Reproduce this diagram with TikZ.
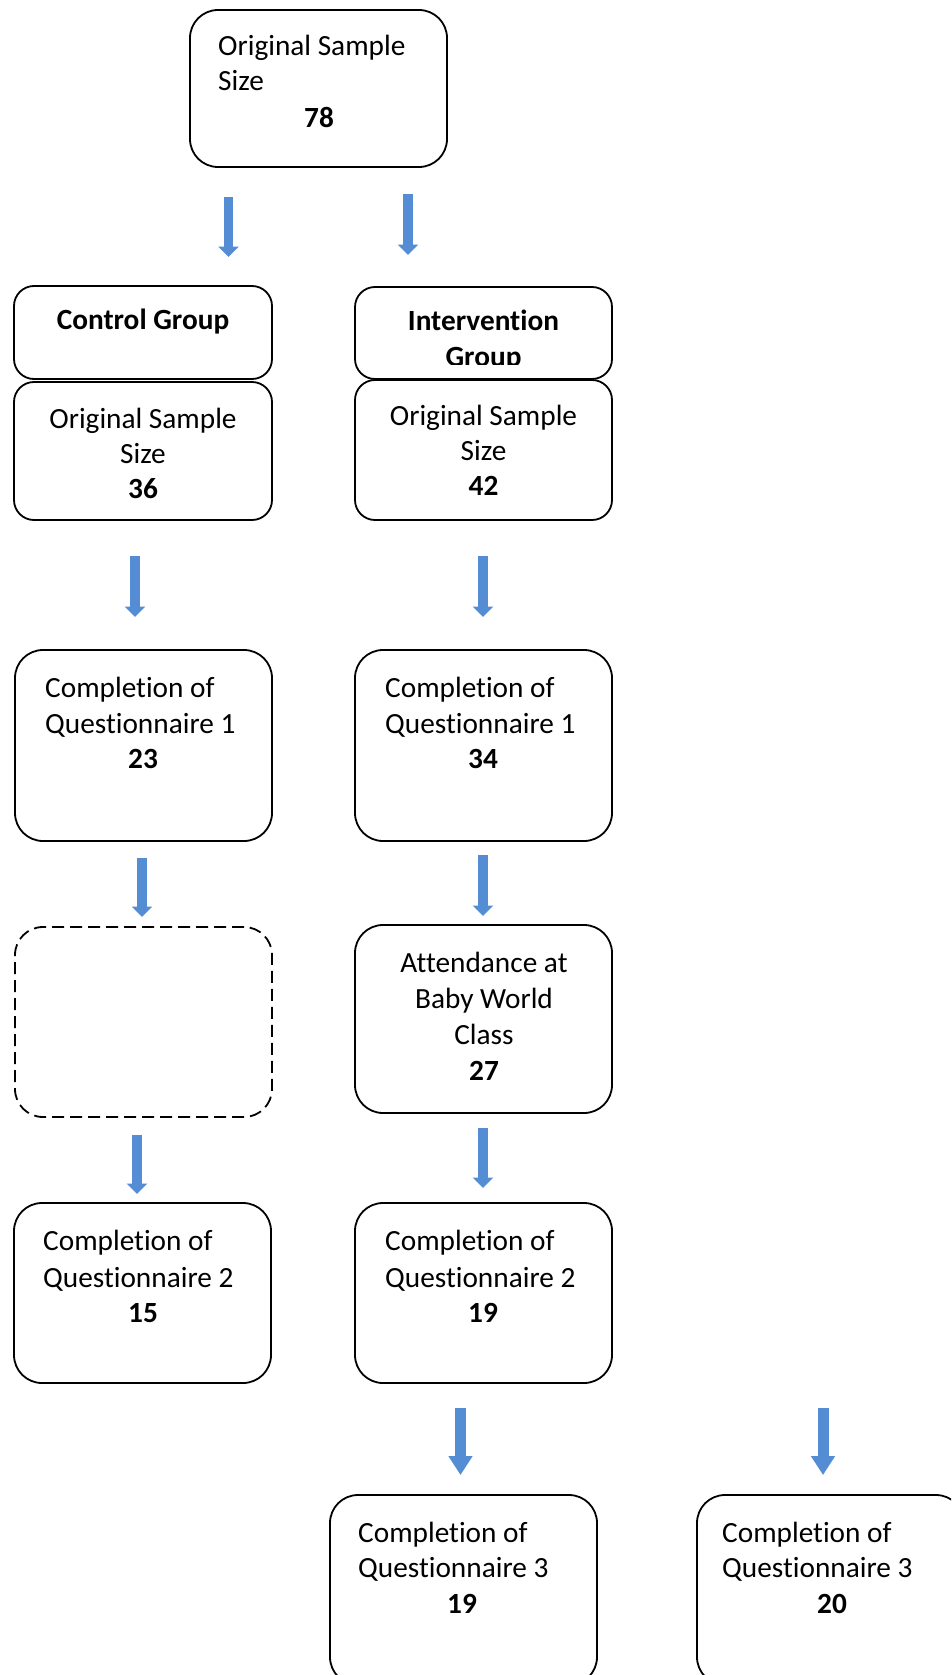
\documentclass[tikz,border=0pt]{standalone}
\usepackage{fontspec}
\setmainfont{Carlito}[Ligatures={NoCommon}]
\usetikzlibrary{arrows.meta}
\definecolor{arrowblue}{HTML}{548DD4}
\tikzset{
 box/.style={draw=black, line width=1.8pt, rounded corners=28pt, minimum width=257pt, inner sep=0pt},
 gbox/.style={box, rounded corners=20pt},
 dbox/.style={box, dash pattern=on 12pt off 6pt},
 lt/.style={inner sep=0pt, anchor=base west, font=\fontsize{29.3}{36}\selectfont},
 ct/.style={inner sep=0pt, anchor=base, font=\fontsize{29.3}{36}\selectfont},
 bt/.style={inner sep=0pt, anchor=base, font=\fontsize{29.3}{36}\selectfont\bfseries},
 barrow/.style={draw=arrowblue, line width=9.5pt, -{Triangle[width=20pt,length=10.5pt]}},
 bigarrow/.style={draw=arrowblue, line width=11pt, -{Triangle[width=23pt,length=19pt]}},
}
\begin{document}
\begin{tikzpicture}[x=1pt,y=-1pt]
\clip (0,0) rectangle (951,1675);
\fill[white] (0,0) rectangle (951,1675);

% boxes
\node[box, minimum height=157pt] (top) at (318.5,88.5) {};
\node[gbox, minimum width=258pt, minimum height=93pt] (ctrlgrp) at (143,332.5) {};
\node[gbox, minimum height=92pt] (intgrp) at (483.5,333) {};
\node[gbox, minimum width=258pt, minimum height=138pt] (ctrlorig) at (143,451) {};
\node[gbox, minimum height=140pt] (intorig) at (483.5,450) {};
\node[box, minimum height=191pt] (ctrlq1) at (143.5,745.5) {};
\node[box, minimum height=191pt] (intq1) at (483.5,745.5) {};
\node[dbox, minimum height=190pt] (ctrlgap) at (143.5,1022) {};
\node[box, minimum height=188pt] (attend) at (483.5,1019) {};
\node[box, minimum height=180pt] (ctrlq2) at (142.5,1293) {};
\node[box, minimum height=180pt] (intq2) at (483.5,1293) {};
\node[box, minimum width=267pt, minimum height=190pt] (q3a) at (463.5,1590) {};
\node[box, minimum width=267pt, minimum height=190pt] (q3b) at (830.5,1590) {};

% texts
\node[lt] (t1a) at (218,55.5) {Original Sample};
\node[lt] (t1b) at (218,91) {Size};
\node[bt] (t1c) at (319,128) {78};

\node[bt] (cg) at (143,329) {Control Group};
\node[bt] (ig1) at (483.5,330) {Intervention};
\begin{scope}
\clip (355,287) rectangle (612,364.5);
\node[bt] (ig2) at (483.5,366) {Group};
\end{scope}

\node[ct] (co1) at (143,428) {Original Sample};
\node[ct] (co2) at (143,463) {Size};
\node[bt] (co3) at (143,498) {36};

\node[ct] (io1) at (483.5,425) {Original Sample};
\node[ct] (io2) at (483.5,460) {Size};
\node[bt] (io3) at (483.5,495) {42};

\node[lt] (cq1a) at (45,697) {Completion of};
\node[lt] (cq1b) at (45,733) {Questionnaire 1};
\node[bt] (cq1c) at (143,768) {23};

\node[lt] (iq1a) at (385,697) {Completion of};
\node[lt] (iq1b) at (385,733) {Questionnaire 1};
\node[bt] (iq1c) at (483,768) {34};

\node[ct] (at1) at (484,972) {Attendance at};
\node[ct] (at2) at (484,1008) {Baby World};
\node[ct] (at3) at (484,1044) {Class};
\node[bt] (at4) at (484,1080) {27};

\node[lt] (cq2a) at (43,1250) {Completion of};
\node[lt] (cq2b) at (43,1287) {Questionnaire 2};
\node[bt] (cq2c) at (143,1322) {15};

\node[lt] (iq2a) at (385,1250) {Completion of};
\node[lt] (iq2b) at (385,1287) {Questionnaire 2};
\node[bt] (iq2c) at (483,1322) {19};

\node[lt] (q3aa) at (358,1542) {Completion of};
\node[lt] (q3ab) at (358,1577) {Questionnaire 3};
\node[bt] (q3ac) at (462,1613) {19};

\node[lt] (q3ba) at (722,1542) {Completion of};
\node[lt] (q3bb) at (722,1577) {Questionnaire 3};
\node[bt] (q3bc) at (832,1613) {20};

% arrows
\coordinate (a1s) at (228.5,197); \coordinate (a1e) at (228.5,257);
\coordinate (a2s) at (408,194);   \coordinate (a2e) at (408,255);
\coordinate (a3s) at (135,556);   \coordinate (a3e) at (135,617);
\coordinate (a4s) at (483,556);   \coordinate (a4e) at (483,617);
\coordinate (a5s) at (142,858);   \coordinate (a5e) at (142,917);
\coordinate (a6s) at (483,855);   \coordinate (a6e) at (483,916);
\coordinate (a7s) at (137,1135);  \coordinate (a7e) at (137,1194);
\coordinate (a8s) at (483,1128);  \coordinate (a8e) at (483,1188);
\coordinate (a9s) at (460.5,1408);  \coordinate (a9e) at (460.5,1475);
\coordinate (a10s) at (823,1408); \coordinate (a10e) at (823,1475);
\draw[barrow] (a1s) -- (a1e);
\draw[barrow] (a2s) -- (a2e);
\draw[barrow] (a3s) -- (a3e);
\draw[barrow] (a4s) -- (a4e);
\draw[barrow] (a5s) -- (a5e);
\draw[barrow] (a6s) -- (a6e);
\draw[barrow] (a7s) -- (a7e);
\draw[barrow] (a8s) -- (a8e);
\draw[bigarrow] (a9s) -- (a9e);
\draw[bigarrow] (a10s) -- (a10e);
\end{tikzpicture}
\end{document}
